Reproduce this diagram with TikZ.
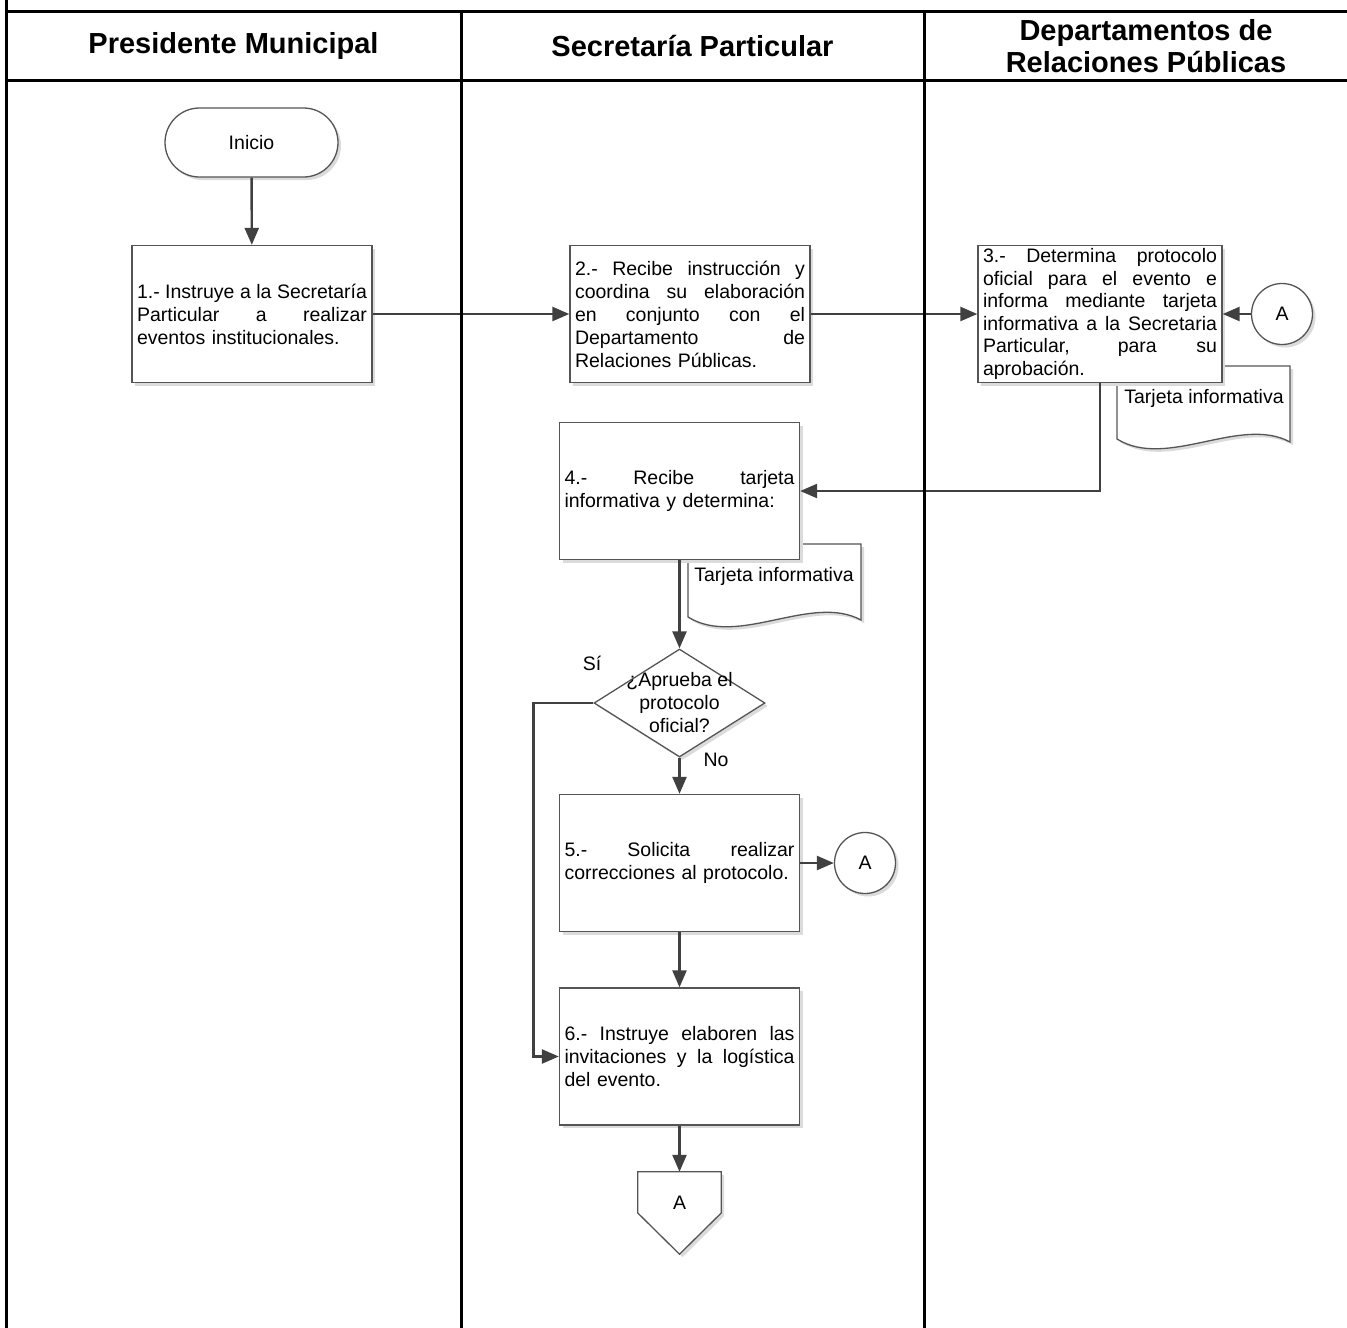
\documentclass[tikz,border=0pt]{standalone}
\usepackage{fontspec}
\setmainfont{Liberation Sans}
\usetikzlibrary{arrows.meta,shapes.geometric,shadows,calc}
\definecolor{edgegray}{HTML}{555555}
\definecolor{flowgray}{HTML}{404040}
% a fully justified line of a box text (spaces may stretch again)
\newcommand{\jline}[1]{{\spaceskip=0pt\xspaceskip=0pt\makebox[\linewidth][s]{#1}}}
\begin{document}
\begin{tikzpicture}[x=1pt,y=-1pt,
  every node/.style={font=\fontsize{19.5}{23}\selectfont},
  softshadow/.style={drop shadow={shadow xshift=3pt,shadow yshift=-3pt,fill=black!14,opacity=1}},
  shapeline/.style={draw=edgegray,line width=1.3pt,fill=white,softshadow},
  proc/.style={rectangle,shapeline,text width=230pt,inner xsep=5pt,inner ysep=2pt,minimum height=137pt,align=left},
  term/.style={rectangle,rounded corners=34.5pt,shapeline,minimum width=173pt,minimum height=69pt},
  conn/.style={circle,shapeline,minimum size=61pt,inner sep=0pt},
  decision/.style={diamond,shapeline,minimum width=171pt,minimum height=108pt,inner sep=0pt},
  arr/.style={draw=flowgray,line width=2.4pt,-{Triangle[length=17pt,width=14pt]}},
  frame/.style={draw=black,line width=3pt},
  head/.style={font=\fontsize{29}{32}\selectfont\bfseries,align=center},
  docpic/.pic={
    \path[shapeline] (0,0) -- (173,0) -- (173,76)
      .. controls (123,49) and (50,104) .. (0,73) -- cycle;
  }
]
\useasboundingbox (0,0) rectangle (1347,1328);

% lane headings
\node[head] (h1) at (233.5,46) {Presidente Municipal};
\node[head] (h2) at (692.5,46) {Secretaría Particular};
\node[head] (h3) at (1146,46) {Departamentos de\\Relaciones Públicas};

% documents (drawn first so the boxes overlap them)
\pic at (1117,366) {docpic};
\node (doc1) at (1204,398) {Tarjeta informativa};
\pic at (688,544) {docpic};
\node (doc2) at (774,576) {Tarjeta informativa};

% flow shapes
\node[term] (inicio) at (251.5,142.5) {Inicio};
\node[proc] (b1) at (252,314) {\jline{1.- Instruye a la Secretaría}\\
  \jline{Particular a realizar}\\
  eventos institucionales.};
\node[proc] (b2) at (690,314) {\jline{2.- Recibe instrucción y}\\
  \jline{coordina su elaboración}\\
  \jline{en conjunto con el}\\
  \jline{Departamento de}\\
  Relaciones Públicas.};
\node[proc,text width=234pt,inner ysep=1pt,font=\fontsize{19.5}{22.5}\selectfont] (b3) at (1100,314)
  {\jline{3.- Determina protocolo}\\
  \jline{oficial para el evento e}\\
  \jline{informa mediante tarjeta}\\
  \jline{informativa a la Secretaria}\\
  \jline{Particular, para su}\\
  aprobación.};
\node[conn] (cA1) at (1282,314) {A};
\node[proc] (b4) at (679.5,491) {\jline{4.- Recibe tarjeta}\\
  informativa y determina:};
\node[decision] (dia) at (679.5,703) {};
\node[align=center] (diatxt) at (dia.center) {¿Aprueba el\\protocolo\\oficial?};
\node (si) at (592,663) {Sí};
\node (no) at (716,760) {No};
\node[proc] (b5) at (679.5,863) {\jline{5.- Solicita realizar}\\
  correcciones al protocolo.};
\node[conn] (cA2) at (865,863) {A};
\node[proc] (b6) at (679.5,1056.5) {\jline{6.- Instruye elaboren las}\\
  \jline{invitaciones y la logística}\\
  del evento.};

% off-page connector
\node[minimum width=83pt,minimum height=82pt,inner sep=0pt] (off) at (679.5,1213) {};
\path[shapeline] (off.north west) -- (off.north east) -- (off.east)
  -- (off.south) -- (off.west) -- cycle;
\node (offA) at (679.5,1203) {A};

% connectors
\draw[arr] (inicio) -- (b1);
\draw[arr] (b1) -- (b2);
\draw[arr] (b2) -- (b3);
\draw[arr] (cA1) -- (b3);
\draw[arr] (b3.south) |- (b4.east);
\draw[arr] (b4) -- (dia);
\draw[arr] (dia) -- (b5);
\draw[arr] (b5) -- (cA2);
\draw[arr] (b5) -- (b6);
\draw[arr] (b6) -- (off.north);
\draw[arr] (dia.west) -- ++(-60,0) |- (b6.west);

% lane frame
\draw[frame] (6,0) -- (6,1328);
\draw[frame] (6,11) -- (1350,11);
\draw[frame] (6,80) -- (1350,80);
\draw[frame] (461,11) -- (461,1328);
\draw[frame] (924,11) -- (924,1328);
\end{tikzpicture}
\end{document}
